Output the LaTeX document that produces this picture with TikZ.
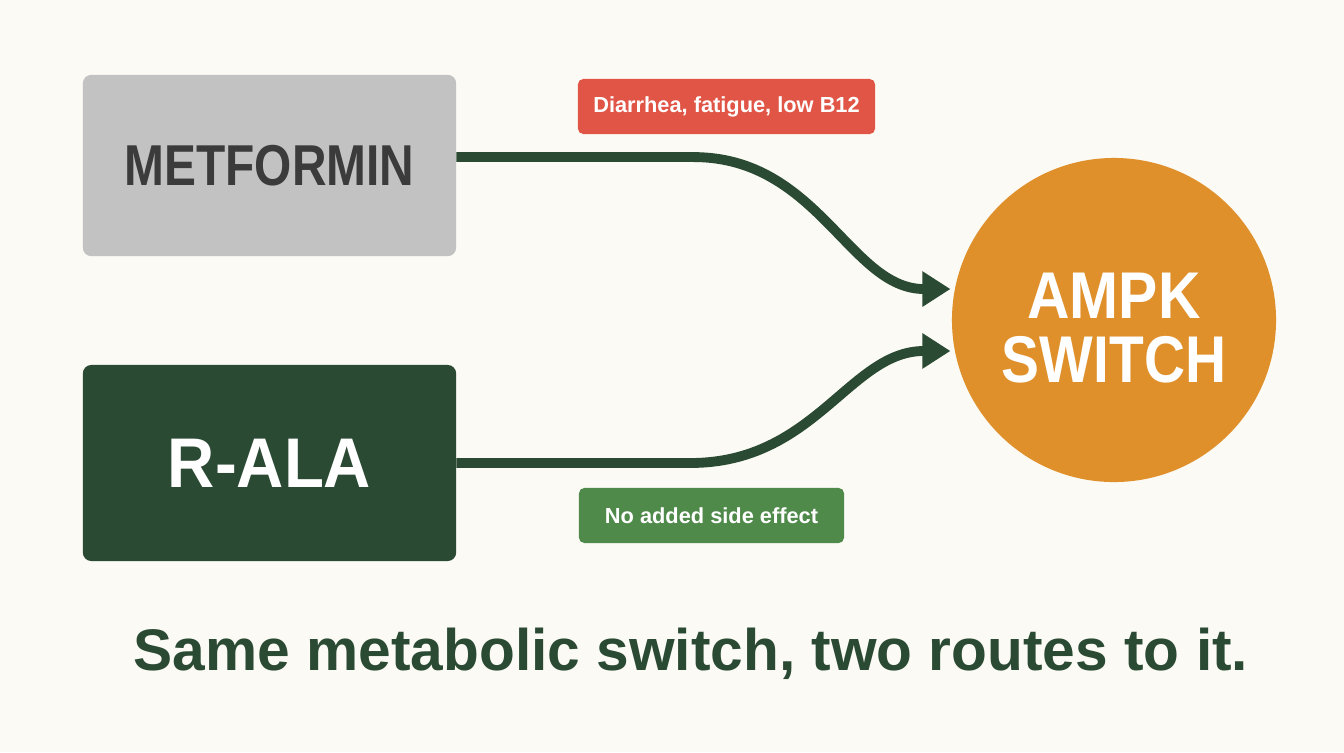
\documentclass[tikz,border=0pt]{standalone}
\usepackage{graphicx}
\usepackage{fontspec}
\setmainfont{Liberation Sans}
\usetikzlibrary{arrows.meta,positioning}

\definecolor{paper}{HTML}{FBFAF4}
\definecolor{pill}{HTML}{C2C2C2}
\definecolor{forest}{HTML}{2B4A33}
\definecolor{amber}{HTML}{E0902A}
\definecolor{alarm}{HTML}{E05546}
\definecolor{leaf}{HTML}{4F8A4B}
\definecolor{ink}{HTML}{3B3B3B}
\newcommand{\narrowtxt}[2][0.86]{\scalebox{#1}[1]{#2}}

\begin{document}
\begin{tikzpicture}[x=0.025cm,y=-0.025cm,
 box/.style={rounded corners=6pt,minimum width=9.33cm,inner sep=0pt,font=\bfseries\fontsize{41}{41}\selectfont},
 tag/.style={rounded corners=4pt,minimum height=1.38cm,inner sep=0pt,text=white,font=\bfseries\fontsize{15.5}{16}\selectfont},
 flow/.style={draw=forest,line width=7pt,shorten >=3pt,-{Triangle[length=20pt,width=24pt]}}]
\fill[paper] (0,0) rectangle (1344,752);
\useasboundingbox (0,0) rectangle (1344,752);
\node[box,fill=pill,text=ink,minimum height=4.53cm] (met) at (269.5,165.5) {\narrowtxt[0.83]{METFORMIN}};
\node[box,fill=forest,text=white,minimum height=4.9cm,font=\bfseries\fontsize{50}{50}\selectfont] (rala) at (269.5,463) {\narrowtxt[0.93]{R-ALA}};
\node[circle,fill=amber,minimum size=8.1cm,inner sep=0pt,text=white,align=center,
 font=\bfseries\fontsize{47}{46}\selectfont] (ampk) at (1114,320) {\rule{0pt}{44pt}\narrowtxt[0.89]{AMPK}\\\narrowtxt{SWITCH}};
\draw[flow] ([yshift=6pt]met.east) -- ++(237,0) .. controls +(125,0) and +(-105,0) .. (ampk.169);
\draw[flow] (rala.east) -- ++(234,0) .. controls +(125,0) and +(-105,0) .. (ampk.191);
\node[tag,fill=alarm,minimum width=7.43cm] (harm) at (726.5,106.5) {Diarrhea, fatigue, low B12};
\node[tag,fill=leaf,minimum width=6.63cm] (clean) at (711.5,515.5) {No added side effect};
\node[anchor=base,text=forest,font=\bfseries\fontsize{41.7}{42}\selectfont] (caption) at (691,670) {Same metabolic switch, two routes to it.};
\end{tikzpicture}
\end{document}
